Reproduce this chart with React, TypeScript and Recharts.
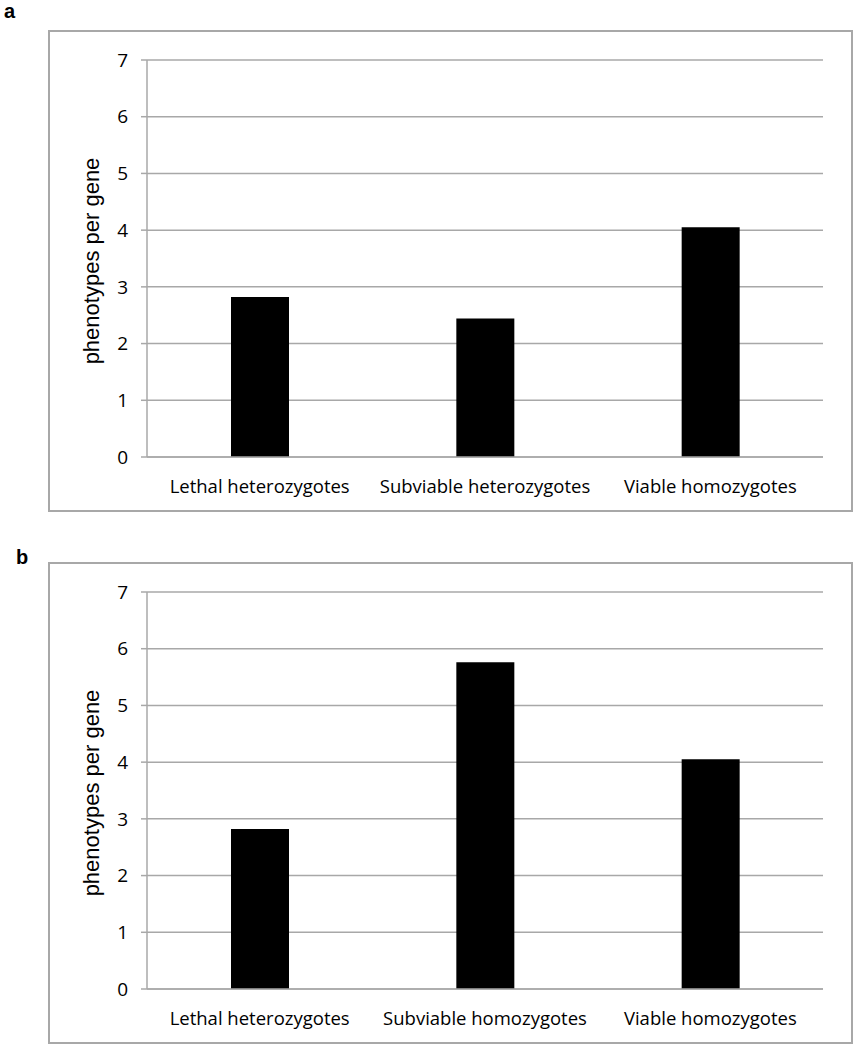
import React from "react";
import { BarChart, Bar, XAxis, YAxis, CartesianGrid } from "recharts";

// categories per panel
const categoriesA = ["Lethal heterozygotes", "Subviable heterozygotes", "Viable homozygotes"];
const categoriesB = ["Lethal heterozygotes", "Subviable homozygotes", "Viable homozygotes"];

// phenotypes per gene
const valuesA = [2.82, 2.44, 4.05];
const valuesB = [2.82, 5.76, 4.05];

const yTicks = [0, 1, 2, 3, 4, 5, 6, 7];

const GRID = "#a8a8a8";
const FONT = "'Open Sans', Lato, sans-serif";

function Panel({ letter, categories, values, top }: { letter: string; categories: string[]; values: number[]; top: number }) {
  const data = categories.map((c, i) => ({ name: c, value: values[i] }));
  return (
    <>
      <div
        style={{
          position: "absolute",
          left: 48,
          top: top + 30,
          width: 805,
          height: 482,
          border: `2px solid ${GRID}`,
          boxSizing: "border-box",
        }}
      />
      <div
        style={{
          position: "absolute",
          left: letter === "a" ? 4 : 16,
          top: letter === "a" ? top + 0 : top + 14,
          fontFamily: "'Liberation Sans', Arial, sans-serif",
          fontWeight: "bold",
          fontSize: 20,
        }}
      >
        {letter}
      </div>
      <div
        style={{
          position: "absolute",
          left: 92,
          top: top + 261,
          transform: "translate(-50%, -50%) rotate(-90deg)",
          whiteSpace: "nowrap",
          fontFamily: "'Liberation Sans', Arial, sans-serif",
          fontSize: 22,
        }}
      >
        phenotypes per gene
      </div>
      <div style={{ position: "absolute", left: 0, top }}>
        <BarChart
          width={858}
          height={512}
          data={data}
          margin={{ top: 60, right: 35, left: 87, bottom: 25 }}
        >
          <CartesianGrid vertical={false} stroke={GRID} strokeWidth={1.5} />
          <XAxis
            dataKey="name"
            axisLine={{ stroke: GRID, strokeWidth: 1.5 }}
            tickLine={false}
            tickSize={0}
            tickMargin={23}
            tick={{ fontSize: 18.5, fill: "#000", fontFamily: FONT }}
            interval={0}
          />
          <YAxis
            width={60}
            domain={[0, 7]}
            ticks={yTicks}
            interval={0}
            axisLine={{ stroke: GRID, strokeWidth: 1.5 }}
            tickLine={{ stroke: GRID, strokeWidth: 1.5 }}
            tickSize={6}
            tickMargin={13}
            tick={{ fontSize: 19, fill: "#000", fontFamily: FONT }}
          />
          <Bar dataKey="value" fill="#000" barSize={58} isAnimationActive={false} />
        </BarChart>
      </div>
    </>
  );
}

export default function App() {
  return (
    <div style={{ position: "absolute", left: 0, top: 0, width: 858, height: 1050, background: "#fff" }}>
      <Panel letter="a" categories={categoriesA} values={valuesA} top={0} />
      <Panel letter="b" categories={categoriesB} values={valuesB} top={532} />
    </div>
  );
}
